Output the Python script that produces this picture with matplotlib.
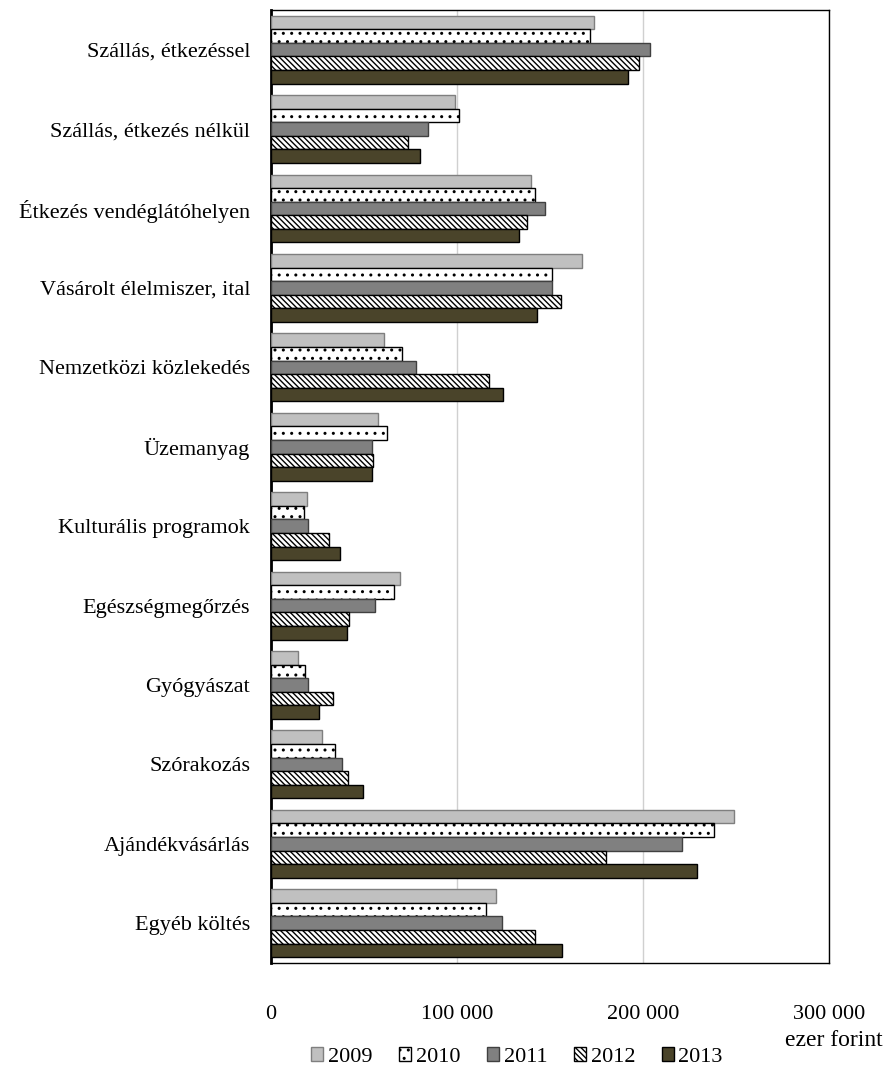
import numpy as np
import matplotlib
matplotlib.use("Agg")
import matplotlib.pyplot as plt

plt.rcParams['font.family'] = ['Liberation Serif', 'DejaVu Serif']
plt.rcParams['hatch.linewidth'] = 1.0

categories = ["Szállás, étkezéssel", "Szállás, étkezés nélkül", "Étkezés vendéglátóhelyen",
              "Vásárolt élelmiszer, ital", "Nemzetközi közlekedés", "Üzemanyag",
              "Kulturális programok", "Egészségmegőrzés", "Gyógyászat", "Szórakozás",
              "Ajándékvásárlás", "Egyéb költés"]
years = ["2009", "2010", "2011", "2012", "2013"]

v2009 = [173700, 99000, 139900, 167500, 60600, 57400, 19300, 69200, 14600, 27700, 249000, 121000]
v2010 = [171500, 101000, 141800, 151000, 70500, 62600, 18000, 65900, 18400, 34300, 238000, 115600]
v2011 = [204000, 84300, 147400, 151000, 77900, 54200, 19800, 56000, 20000, 38100, 221000, 124000]
v2012 = [198000, 73600, 137900, 155800, 117100, 54900, 31300, 42200, 33400, 41300, 180000, 142000]
v2013 = [192000, 80000, 133200, 143100, 125000, 54200, 37200, 41000, 25700, 49400, 229000, 156500]

series = [v2009, v2010, v2011, v2012, v2013]
faces = ["#c0c0c0", "white", "#808080", "white", "#4a442a"]
edges = ["#7f7f7f", "black", "#404040", "black", "black"]
hatches = [None, "..", None, "\\\\\\\\\\\\", None]

fig = plt.figure(figsize=(8.87, 10.72), dpi=100)
ax = fig.add_axes([0.3055, 0.1017, 0.629, 0.889])

n = len(categories)
y = np.arange(n)
h = 0.171
for k, vals in enumerate(series):
    ax.barh(y - 2 * h + k * h, vals, height=h, color=faces[k], edgecolor=edges[k],
            hatch=hatches[k], linewidth=1.0, label=years[k], zorder=3)

ax.set_ylim(n - 0.5, -0.5)
ax.set_xlim(0, 300000)
ax.set_yticks(y)
ax.set_yticklabels(categories, fontsize=16)
ax.set_xticks([0, 100000, 200000, 300000])
ax.set_xticklabels(["0", "100 000", "200 000", "300 000"], fontsize=16)
ax.tick_params(axis='y', length=0, pad=15)
ax.tick_params(axis='x', length=0, pad=30)
ax.grid(axis='x', color='#d0d0d0', linewidth=1, zorder=0)
for s in ax.spines.values():
    s.set_color('black')
    s.set_linewidth(1.0)
ax.spines['left'].set_linewidth(2.0)

fig.text(0.995, 1 - 1041 / 1072, "ezer forint", ha='right', va='center', fontsize=17)

ax.legend(loc='center', bbox_to_anchor=(517 / 887, 1 - 1057 / 1072),
          bbox_transform=fig.transFigure, ncol=5, frameon=False, fontsize=16,
          handlelength=0.55, handleheight=0.55, handletextpad=0.2, columnspacing=1.2)

fig.savefig("out.png", dpi=100)
